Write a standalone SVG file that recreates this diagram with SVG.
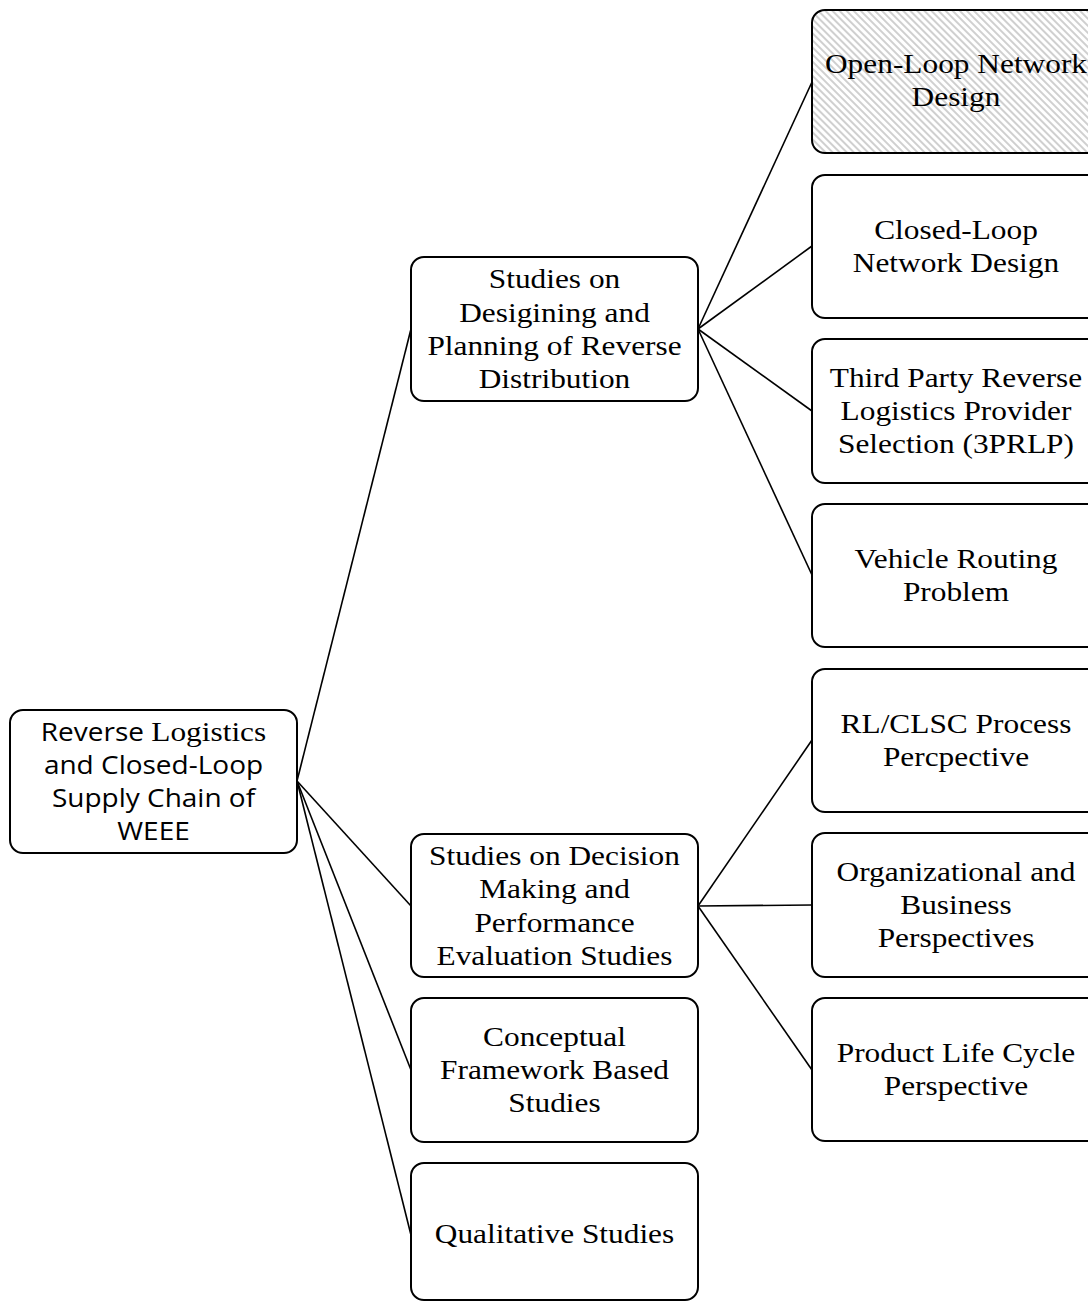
<svg xmlns="http://www.w3.org/2000/svg" width="1088" height="1302" viewBox="0 0 1088 1302">
<style>
.box{fill:#fff;stroke:#000;stroke-width:2}
.hatched{fill:url(#hatch);stroke:#000;stroke-width:2}
.t{font-family:"Liberation Serif","Times New Roman",serif;font-size:28px;fill:#000;text-anchor:middle}
.s{font-family:"Open Sans","Liberation Sans",sans-serif;font-size:25px}
.conn line{stroke:#000;stroke-width:1.6}
</style>
<defs>
<pattern id="hatch" patternUnits="userSpaceOnUse" width="5" height="5" patternTransform="rotate(-45)">
<rect width="5" height="5" fill="#fff"/>
<line x1="1" y1="0" x2="1" y2="5" stroke="#c4c4c4" stroke-width="1.6"/>
</pattern>
</defs>
<rect width="1088" height="1302" fill="#fff"/>
<g class="conn" id="connectors">
<line x1="297" y1="781" x2="411" y2="329"/>
<line x1="297" y1="781" x2="411" y2="906"/>
<line x1="297" y1="781" x2="411" y2="1070"/>
<line x1="297" y1="781" x2="411" y2="1235"/>
<line x1="698" y1="329" x2="812" y2="82"/>
<line x1="698" y1="329" x2="812" y2="246"/>
<line x1="698" y1="329" x2="812" y2="411"/>
<line x1="698" y1="329" x2="812" y2="575"/>
<line x1="698" y1="906" x2="812" y2="740"/>
<line x1="698" y1="906" x2="812" y2="905"/>
<line x1="698" y1="906" x2="812" y2="1070"/>
</g>
<g id="root">
<rect class="box" x="10" y="710" width="287" height="143" rx="13"/>
<text class="t" transform="translate(153.5 0) scale(1.12 1)"><tspan x="0" y="741"><tspan class="s">Reverse </tspan>Logistics</tspan><tspan class="s" x="0" y="774">and Closed-Loop</tspan><tspan class="s" x="0" y="807">Supply Chain of</tspan><tspan class="s" x="0" y="840">WEEE</tspan></text>
</g>
<g id="designing">
<rect class="box" x="411" y="257" width="287" height="144" rx="13"/>
<text class="t" transform="translate(554.5 0) scale(1.12 1)"><tspan x="0" y="288">Studies on</tspan><tspan x="0" y="322">Desigining and</tspan><tspan x="0" y="355">Planning of Reverse</tspan><tspan x="0" y="388">Distribution</tspan></text>
</g>
<g id="decision">
<rect class="box" x="411" y="834" width="287" height="143" rx="13"/>
<text class="t" transform="translate(554.5 0) scale(1.12 1)"><tspan x="0" y="865">Studies on Decision</tspan><tspan x="0" y="898">Making and</tspan><tspan x="0" y="932">Performance</tspan><tspan x="0" y="965">Evaluation Studies</tspan></text>
</g>
<g id="conceptual">
<rect class="box" x="411" y="998" width="287" height="144" rx="13"/>
<text class="t" transform="translate(554.5 0) scale(1.12 1)"><tspan x="0" y="1046">Conceptual</tspan><tspan x="0" y="1079">Framework Based</tspan><tspan x="0" y="1112">Studies</tspan></text>
</g>
<g id="qualitative">
<rect class="box" x="411" y="1163" width="287" height="137" rx="13"/>
<text class="t" transform="translate(554.5 0) scale(1.12 1)"><tspan x="0" y="1243">Qualitative Studies</tspan></text>
</g>
<g id="openloop">
<rect class="hatched" x="812" y="10" width="290" height="143" rx="13"/>
<text class="t" transform="translate(956 0) scale(1.12 1)"><tspan x="0" y="73">Open-Loop Network</tspan><tspan x="0" y="106">Design</tspan></text>
</g>
<g id="closedloop">
<rect class="box" x="812" y="175" width="290" height="143" rx="13"/>
<text class="t" transform="translate(956 0) scale(1.12 1)"><tspan x="0" y="239">Closed-Loop</tspan><tspan x="0" y="272">Network Design</tspan></text>
</g>
<g id="thirdparty">
<rect class="box" x="812" y="339" width="290" height="144" rx="13"/>
<text class="t" transform="translate(956 0) scale(1.12 1)"><tspan x="0" y="387">Third Party Reverse</tspan><tspan x="0" y="420">Logistics Provider</tspan><tspan x="0" y="453">Selection (3PRLP)</tspan></text>
</g>
<g id="vehicle">
<rect class="box" x="812" y="504" width="290" height="143" rx="13"/>
<text class="t" transform="translate(956 0) scale(1.12 1)"><tspan x="0" y="568">Vehicle Routing</tspan><tspan x="0" y="601">Problem</tspan></text>
</g>
<g id="rlclsc">
<rect class="box" x="812" y="669" width="290" height="143" rx="13"/>
<text class="t" transform="translate(956 0) scale(1.12 1)"><tspan x="0" y="733">RL/CLSC Process</tspan><tspan x="0" y="766">Percpective</tspan></text>
</g>
<g id="organizational">
<rect class="box" x="812" y="833" width="290" height="144" rx="13"/>
<text class="t" transform="translate(956 0) scale(1.12 1)"><tspan x="0" y="881">Organizational and</tspan><tspan x="0" y="914">Business</tspan><tspan x="0" y="947">Perspectives</tspan></text>
</g>
<g id="lifecycle">
<rect class="box" x="812" y="998" width="290" height="143" rx="13"/>
<text class="t" transform="translate(956 0) scale(1.12 1)"><tspan x="0" y="1062">Product Life Cycle</tspan><tspan x="0" y="1095">Perspective</tspan></text>
</g>
</svg>
